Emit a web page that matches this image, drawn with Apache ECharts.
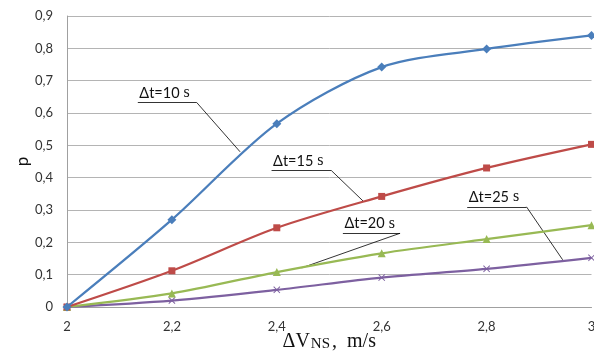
<!DOCTYPE html>
<html>
<head>
<meta charset="utf-8">
<style>
  html, body { margin: 0; padding: 0; background: #fff; }
  #chart { width: 594px; height: 352px; }
</style>
<script src="https://cdn.jsdelivr.net/npm/echarts@6/dist/echarts.min.js"></script>
</head>
<body>
<div id="chart"></div>
<script>
// Relative speed ΔV_NS (m/s) on the x axis
const speeds = [2, 2.2, 2.4, 2.6, 2.8, 3];

// Probability p for each time interval Δt
const pDt10 = [0, 0.270, 0.567, 0.742, 0.798, 0.840];
const pDt15 = [0, 0.112, 0.245, 0.342, 0.430, 0.503];
const pDt20 = [0, 0.042, 0.108, 0.166, 0.210, 0.253];
const pDt25 = [0, 0.020, 0.053, 0.091, 0.118, 0.152];

const seriesNames = ['Δt=10 s', 'Δt=15 s', 'Δt=20 s', 'Δt=25 s'];

// Callout for each curve, in data units: underline [x1, x2, y], leader end [x, y]
const calloutLines = [
  [2.135, 2.247, 0.633],
  [2.390, 2.504, 0.422],
  [2.526, 2.635, 0.228],
  [2.763, 2.876, 0.310]
];
const calloutTargets = [
  [2.330, 0.480],
  [2.565, 0.327],
  [2.4475, 0.121],
  [2.945, 0.146]
];

const colors = ['#4A7EBB', '#BE4B48', '#98B954', '#7D60A0'];
const crossPath = 'path://M0,1L1,0L5,4L9,0L10,1L6,5L10,9L9,10L5,6L1,10L0,9L4,5Z';
const symbols = ['diamond', 'rect', 'triangle', crossPath];
const symbolSizes = [9, 7, 8, 7];

const toPairs = vals => speeds.map((x, i) => [x, vals[i]]);
const commaNum = v => String(+(+v).toFixed(1)).replace('.', ',');

function callout(i) {
  const [x1, x2, y] = calloutLines[i];
  const [tx, ty] = calloutTargets[i];
  const parts = seriesNames[i].split(' ');
  return {
    markLine: {
      silent: true,
      animation: false,
      symbol: ['none', 'none'],
      label: { show: false },
      lineStyle: { color: '#000', width: 0.8, type: 'solid' },
      emphasis: { disabled: true },
      data: [
        [{ coord: [x1, y] }, { coord: [x2, y] }],
        [{ coord: [x2, y] }, { coord: [tx, ty] }]
      ]
    },
    markPoint: {
      silent: true,
      animation: false,
      symbol: 'rect',
      symbolSize: 1,
      itemStyle: { color: 'rgba(0,0,0,0)' },
      label: {
        show: true,
        position: [0, 0],
        align: 'left',
        verticalAlign: 'bottom',
        offset: [2, -1],
        formatter: '{a|' + parts[0] + '}{b| ' + parts[1] + '}',
        rich: {
          a: { fontFamily: 'Lato', fontSize: 14.5, color: '#111' },
          b: { fontFamily: 'Liberation Serif', fontSize: 16, color: '#111' }
        }
      },
      data: [{ coord: [x1, y] }]
    }
  };
}

const series = [pDt10, pDt15, pDt20, pDt25].map((vals, i) => Object.assign({
  name: seriesNames[i],
  type: 'line',
  data: toPairs(vals),
  smooth: 0.3,
  symbol: symbols[i],
  symbolSize: symbolSizes[i],
  showSymbol: true,
  clip: false,
  lineStyle: { color: colors[i], width: 2.25 },
  itemStyle: { color: colors[i] },
  z: 10 - i
}, callout(i)));

const chart = echarts.init(document.getElementById('chart'), null, { renderer: 'canvas' });
chart.setOption({
  animation: false,
  backgroundColor: '#fff',
  grid: { left: 67, right: 2.5, top: 16, bottom: 45, containLabel: false, outerBoundsMode: 'none' },
  xAxis: {
    type: 'value',
    min: 2,
    max: 3,
    interval: 0.2,
    name: '{a|ΔV}{b|NS}{a|,  m/s}',
    nameLocation: 'middle',
    nameGap: 25,
    nameMoveOverlap: false,
    nameTextStyle: {
      rich: {
        a: { fontFamily: 'Liberation Serif', fontSize: 20, color: '#111' },
        b: { fontFamily: 'Liberation Serif', fontSize: 15, color: '#111', verticalAlign: 'bottom', padding: [5, 2, 0, 1] }
      }
    },
    axisLine: { show: true, lineStyle: { color: '#a0a0a0', width: 1 } },
    axisTick: { show: false },
    splitLine: { show: false },
    axisLabel: {
      formatter: commaNum,
      fontFamily: 'Lato',
      fontSize: 13,
      color: '#333',
      margin: 13
    }
  },
  yAxis: {
    type: 'value',
    min: 0,
    max: 0.9,
    interval: 0.1,
    name: 'p',
    nameLocation: 'middle',
    nameRotate: 90,
    nameGap: 36,
    nameMoveOverlap: false,
    nameTextStyle: { fontFamily: 'Lato', fontSize: 17, color: '#111' },
    axisLine: { show: true, lineStyle: { color: '#a0a0a0', width: 1 } },
    axisTick: { show: false },
    splitLine: { show: true, lineStyle: { color: '#b4b4b4', width: 1 } },
    axisLabel: {
      formatter: commaNum,
      fontFamily: 'Lato',
      fontSize: 13,
      color: '#333',
      margin: 14
    }
  },
  series: series
});
</script>
</body>
</html>
